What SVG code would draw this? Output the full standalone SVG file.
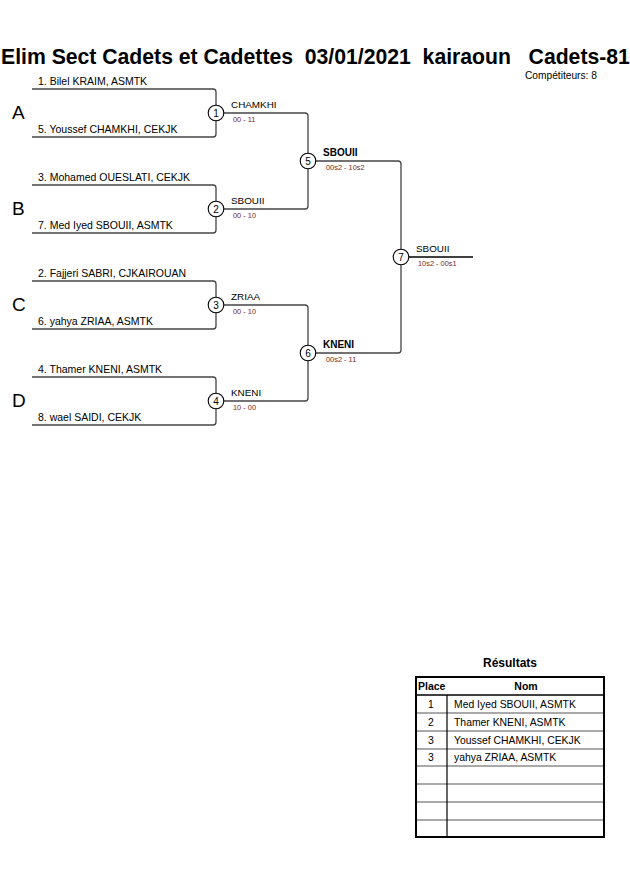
<svg xmlns="http://www.w3.org/2000/svg" width="630" height="891" viewBox="0 0 630 891">
<style>
text{font-family:"Liberation Sans",Arial,sans-serif;fill:#000}
.title{font-size:21.2px;font-weight:bold;white-space:pre}
.comp{font-size:10.2px}
.pl{font-size:10.5px}
.grp{font-size:19px}
.win{font-size:9.9px}
.winb{font-size:10px;font-weight:bold}
.sc{font-size:7.4px;fill:#7a1f1f}
.num{font-size:10px;text-anchor:middle}
.br{fill:none;stroke:#444;stroke-width:1.3}
.circ{fill:#fff;stroke:#000;stroke-width:1.1}
.th{font-size:10.5px;font-weight:bold}
.td{font-size:10.4px}
.tc{font-size:10.4px;text-anchor:middle}
</style>
<rect width="630" height="891" fill="#fff"/>
<text class="title" x="1" y="64" xml:space="preserve">Elim Sect Cadets et Cadettes  03/01/2021  kairaoun   Cadets-81</text>
<text class="comp" x="525" y="79">Compétiteurs: 8</text>

<g id="groups">
<text class="grp" x="12" y="119">A</text>
<text class="grp" x="12" y="215">B</text>
<text class="grp" x="12" y="311">C</text>
<text class="grp" x="12" y="407">D</text>
</g>

<g id="connectors">
<path class="br" d="M32 89 H213 Q216 89 216 92 V134 Q216 137 213 137 H32"/>
<path class="br" d="M32 185 H213 Q216 185 216 188 V230 Q216 233 213 233 H32"/>
<path class="br" d="M32 281 H213 Q216 281 216 284 V326 Q216 329 213 329 H32"/>
<path class="br" d="M32 377 H213 Q216 377 216 380 V422 Q216 425 213 425 H32"/>
<path class="br" d="M216 113 H305 Q308 113 308 116 V206 Q308 209 305 209 H216"/>
<path class="br" d="M216 305 H305 Q308 305 308 308 V398 Q308 401 305 401 H216"/>
<path class="br" d="M308 161 H398 Q401 161 401 164 V350 Q401 353 398 353 H308"/>
<path d="M401 257 H473" stroke="#000" stroke-width="1.3"/>
</g>

<g id="players">
<text class="pl" x="38" y="85">1. Bilel KRAIM, ASMTK</text>
<text class="pl" x="38" y="133">5. Youssef CHAMKHI, CEKJK</text>
<text class="pl" x="38" y="181">3. Mohamed OUESLATI, CEKJK</text>
<text class="pl" x="38" y="229">7. Med Iyed SBOUII, ASMTK</text>
<text class="pl" x="38" y="277">2. Fajjeri SABRI, CJKAIROUAN</text>
<text class="pl" x="38" y="325">6. yahya ZRIAA, ASMTK</text>
<text class="pl" x="38" y="373">4. Thamer KNENI, ASMTK</text>
<text class="pl" x="38" y="421">8. wael SAIDI, CEKJK</text>
</g>

<g id="m1"><circle class="circ" cx="216" cy="113" r="7.8"/><text class="num" x="216" y="116.6">1</text>
<text class="win" x="231" y="108">CHAMKHI</text><text class="sc" x="233" y="122">00 - 11</text></g>
<g id="m2"><circle class="circ" cx="216" cy="209" r="7.8"/><text class="num" x="216" y="212.6">2</text>
<text class="win" x="231" y="204">SBOUII</text><text class="sc" x="233" y="218">00 - 10</text></g>
<g id="m3"><circle class="circ" cx="216" cy="305" r="7.8"/><text class="num" x="216" y="308.6">3</text>
<text class="win" x="231" y="300">ZRIAA</text><text class="sc" x="233" y="314">00 - 10</text></g>
<g id="m4"><circle class="circ" cx="216" cy="401" r="7.8"/><text class="num" x="216" y="404.6">4</text>
<text class="win" x="231" y="396">KNENI</text><text class="sc" x="233" y="410">10 - 00</text></g>
<g id="m5"><circle class="circ" cx="308" cy="161" r="7.8"/><text class="num" x="308" y="164.6">5</text>
<text class="winb" x="323" y="156">SBOUII</text><text class="sc" x="326" y="170">00s2 - 10s2</text></g>
<g id="m6"><circle class="circ" cx="308" cy="353" r="7.8"/><text class="num" x="308" y="356.6">6</text>
<text class="winb" x="323" y="348">KNENI</text><text class="sc" x="326" y="362">00s2 - 11</text></g>
<g id="m7"><circle class="circ" cx="401" cy="257" r="7.8"/><text class="num" x="401" y="260.6">7</text>
<text class="win" x="416" y="252">SBOUII</text><text class="sc" x="418" y="266">10s2 - 00s1</text></g>

<g id="results">
<text x="510" y="667" style="font-size:12px;font-weight:bold;text-anchor:middle">Résultats</text>
<g stroke="#555" stroke-width="1.2">
<line x1="416" y1="713" x2="604" y2="713"/>
<line x1="416" y1="731" x2="604" y2="731"/>
<line x1="416" y1="749" x2="604" y2="749"/>
<line x1="416" y1="766" x2="604" y2="766"/>
<line x1="416" y1="784" x2="604" y2="784"/>
<line x1="416" y1="802" x2="604" y2="802"/>
<line x1="416" y1="820" x2="604" y2="820"/>
</g>
<line x1="416" y1="695" x2="604" y2="695" stroke="#000" stroke-width="1.5"/>
<line x1="447" y1="695" x2="447" y2="837" stroke="#000" stroke-width="1.2"/>
<rect x="416" y="677" width="188" height="160" fill="none" stroke="#000" stroke-width="2"/>
<text class="th" x="418" y="690">Place</text>
<text class="th" x="526" y="690" text-anchor="middle">Nom</text>
<text class="tc" x="431" y="708">1</text><text class="td" x="454" y="708">Med Iyed SBOUII, ASMTK</text>
<text class="tc" x="431" y="726">2</text><text class="td" x="454" y="726">Thamer KNENI, ASMTK</text>
<text class="tc" x="431" y="744">3</text><text class="td" x="454" y="744">Youssef CHAMKHI, CEKJK</text>
<text class="tc" x="431" y="761">3</text><text class="td" x="454" y="761">yahya ZRIAA, ASMTK</text>
</g>
</svg>
